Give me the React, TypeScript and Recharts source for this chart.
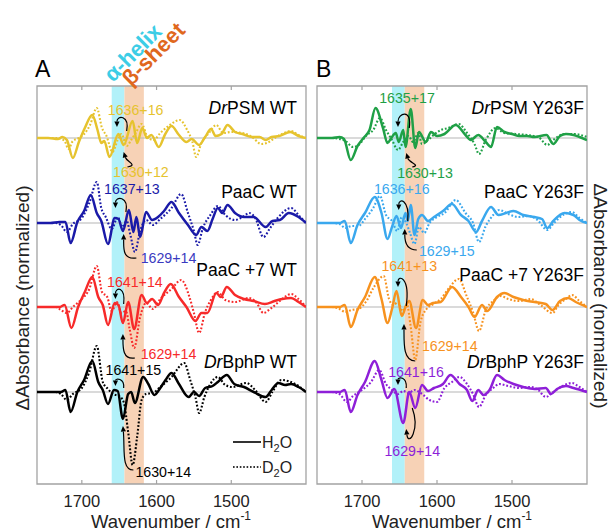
import { LineChart, Line, XAxis, YAxis, ReferenceArea, ReferenceLine, ReferenceDot } from "recharts"

type Pt = [number, number]

const FONT = '"Liberation Sans", Arial, Helvetica, sans-serif'

// wavenumber axis (cm-1), drawn high -> low
const WN_DOMAIN: [number, number] = [1400, 1760]
const WN_TICKS = [1700, 1600, 1500]
const HELIX_BAND: [number, number] = [1660, 1643]
const SHEET_BAND: [number, number] = [1643, 1617]

// stacked spectra: vertical offset of each zero line
const OFFSETS = [346, 261, 177, 92]
const Y_MAX = 398

// ---- panel A (WT) ----
const psmWtH2O: Pt[] = [[1760,0],[1745,0],[1732,-1],[1726,1],[1720,-2],[1712,-20],[1704,-4],[1696,10],[1686,23],[1679,8],[1674,-5],[1670,-3],[1663,-19],[1651,4],[1644,-7],[1632,17],[1626,-5],[1619,10],[1613,0],[1607,3],[1597,-9],[1589,3],[1580,12],[1570,3],[1560,-4],[1553,-1],[1543,-7],[1535,1],[1527,9],[1521,2],[1513,4],[1505,13],[1495,6],[1485,4],[1472,1],[1462,1],[1454,-2],[1446,1],[1436,2],[1421,6],[1410,2],[1400,0]]
const psmWtD2O: Pt[] = [[1760,0],[1732,0],[1723,-3],[1718,-11],[1712,-3],[1704,0],[1697,4],[1689,13],[1680,30],[1673,10],[1667,2],[1659,-14],[1652,-2],[1647,4],[1640,-8],[1634,-2],[1628,5],[1620,14],[1612,1],[1604,-2],[1595,5],[1584,12],[1569,18],[1559,8],[1552,-4],[1547,-19],[1540,-5],[1530,5],[1520,13],[1511,5],[1500,6],[1485,5],[1472,1],[1460,-6],[1452,-5],[1442,0],[1432,4],[1420,7],[1410,3],[1400,0]]
const paacWtH2O: Pt[] = [[1760,0],[1742,0],[1730,1],[1722,1],[1715,-20],[1706,1],[1697,12],[1688,28],[1680,10],[1674,2],[1665,-21],[1656,5],[1651,4],[1645,-8],[1637,13],[1631,-9],[1627,6],[1622,-14],[1614,11],[1606,3],[1598,6],[1590,12],[1580,21],[1570,10],[1558,-2],[1547,-12],[1540,-4],[1532,-8],[1525,4],[1518,15],[1512,10],[1505,18],[1495,10],[1483,6],[1470,6],[1454,-4],[1445,2],[1435,3],[1423,10],[1410,6],[1400,0]]
const paacWtD2O: Pt[] = [[1760,0],[1735,0],[1728,-2],[1720,-9],[1712,-1],[1700,5],[1690,20],[1680,41],[1674,15],[1668,6],[1660,-6],[1652,6],[1646,-4],[1640,2],[1635,-12],[1629,-29],[1622,-8],[1614,3],[1605,-2],[1595,4],[1580,15],[1567,29],[1558,10],[1550,-8],[1545,-22],[1538,-5],[1528,8],[1518,17],[1508,8],[1495,3],[1485,6],[1476,10],[1468,5],[1457,-14],[1448,-5],[1438,5],[1420,15],[1410,8],[1400,0]]
const paac7WtH2O: Pt[] = [[1760,0],[1740,0],[1730,0],[1723,2],[1714,-21],[1705,0],[1696,15],[1686,30],[1678,10],[1672,2],[1665,-18],[1656,4],[1651,2],[1645,-16],[1638,5],[1630,-22],[1620,12],[1613,4],[1606,8],[1598,2],[1590,14],[1581,23],[1570,10],[1560,0],[1548,-14],[1540,-6],[1532,-6],[1520,14],[1514,10],[1506,20],[1495,12],[1483,8],[1470,6],[1455,3],[1442,6],[1432,8],[1420,9],[1410,5],[1400,0]]
const paac7WtD2O: Pt[] = [[1760,0],[1735,0],[1728,-3],[1720,-6],[1712,0],[1700,8],[1690,18],[1680,41],[1673,15],[1666,10],[1660,-4],[1653,5],[1647,-6],[1641,-4],[1636,-22],[1630,-41],[1622,-10],[1614,4],[1605,-2],[1595,8],[1580,18],[1567,27],[1556,10],[1550,-6],[1543,-26],[1535,-5],[1528,6],[1518,15],[1508,7],[1495,5],[1476,9],[1466,4],[1457,-6],[1448,-2],[1435,6],[1420,13],[1410,8],[1400,0]]
const bphpWtH2O: Pt[] = [[1760,0],[1740,0],[1728,0],[1722,2],[1715,-20],[1706,0],[1697,12],[1686,31],[1678,10],[1672,2],[1665,-12],[1657,2],[1652,1],[1645,-27],[1638,-2],[1634,0],[1629,-11],[1618,15],[1611,8],[1603,-3],[1595,4],[1588,12],[1580,19],[1570,8],[1557,-5],[1550,0],[1543,-4],[1535,4],[1525,6],[1518,10],[1506,17],[1496,8],[1483,5],[1470,0],[1454,-5],[1446,2],[1437,9],[1428,7],[1420,8],[1410,5],[1400,0]]
const bphpWtD2O: Pt[] = [[1760,0],[1735,0],[1728,-2],[1720,-8],[1712,-2],[1700,4],[1690,20],[1680,46],[1672,10],[1665,3],[1658,-2],[1650,-4],[1644,-10],[1638,-40],[1632,-73],[1626,-45],[1620,-8],[1614,-2],[1605,-1],[1595,5],[1580,15],[1563,29],[1555,12],[1548,-5],[1543,-21],[1536,-5],[1528,8],[1518,15],[1508,7],[1498,5],[1480,9],[1468,2],[1454,-10],[1445,0],[1433,12],[1420,10],[1410,6],[1400,0]]

// ---- panel B (Y263F) ----
const psmYfH2O: Pt[] = [[1760,0],[1740,0],[1730,1],[1724,-1],[1715,-22],[1706,-8],[1698,0],[1690,8],[1682,30],[1672,10],[1666,-5],[1661,0],[1655,5],[1651,-4],[1645,8],[1642,-9],[1635,29],[1629,-10],[1624,6],[1615,-4],[1608,6],[1600,2],[1590,4],[1575,13],[1562,3],[1555,-2],[1545,3],[1535,-4],[1528,-9],[1520,11],[1510,6],[1500,4],[1490,2],[1480,2],[1470,1],[1454,3],[1445,-6],[1436,2],[1428,4],[1418,3],[1410,1],[1400,-2]]
const psmYfD2O: Pt[] = [[1760,0],[1740,0],[1730,-1],[1722,-3],[1712,-9],[1703,-6],[1695,2],[1685,8],[1676,20],[1668,8],[1660,-2],[1652,-12],[1645,-4],[1638,2],[1632,-4],[1625,5],[1620,-6],[1612,-2],[1603,4],[1595,8],[1585,10],[1571,14],[1560,5],[1550,-6],[1544,-16],[1535,-2],[1522,10],[1510,5],[1495,4],[1480,3],[1465,1],[1453,-7],[1445,-2],[1430,4],[1418,4],[1400,1]]
const paacYfH2O: Pt[] = [[1760,0],[1740,0],[1730,0],[1723,2],[1715,-20],[1706,-2],[1696,10],[1683,26],[1674,10],[1666,-16],[1660,-4],[1654,7],[1648,-5],[1642,10],[1639,2],[1635,18],[1630,-12],[1625,4],[1620,8],[1612,2],[1604,6],[1592,12],[1580,19],[1568,8],[1558,2],[1548,-9],[1540,2],[1528,16],[1518,8],[1508,10],[1498,12],[1485,8],[1470,6],[1460,4],[1453,-5],[1445,2],[1430,10],[1418,8],[1410,3],[1400,0]]
const paacYfD2O: Pt[] = [[1760,0],[1740,0],[1730,-1],[1722,-5],[1714,-3],[1705,-3],[1695,5],[1685,15],[1676,27],[1668,8],[1660,2],[1653,-8],[1647,6],[1641,0],[1636,-10],[1630,-21],[1624,-4],[1617,-10],[1610,0],[1600,6],[1590,10],[1575,23],[1562,10],[1552,0],[1544,-19],[1535,-3],[1525,8],[1517,13],[1505,9],[1492,6],[1478,7],[1466,3],[1453,-7],[1444,0],[1430,9],[1420,11],[1410,5],[1400,0]]
const paac7YfH2O: Pt[] = [[1760,0],[1740,0],[1730,0],[1723,2],[1715,-20],[1706,-3],[1696,10],[1683,30],[1674,8],[1666,-16],[1660,-2],[1654,16],[1647,-9],[1641,2],[1637,6],[1628,-21],[1619,7],[1612,2],[1605,4],[1595,5],[1580,20],[1568,10],[1558,0],[1550,-10],[1540,2],[1533,-4],[1520,10],[1510,14],[1498,10],[1485,7],[1470,5],[1455,3],[1446,-3],[1436,6],[1425,9],[1415,5],[1400,0]]
const paac7YfD2O: Pt[] = [[1760,0],[1740,0],[1730,-2],[1722,-5],[1714,-3],[1705,-2],[1695,5],[1684,20],[1671,31],[1664,8],[1658,2],[1652,5],[1646,-4],[1640,2],[1635,-20],[1629,-53],[1622,-15],[1614,-2],[1605,3],[1595,8],[1585,18],[1571,28],[1560,10],[1552,-5],[1544,-24],[1535,-3],[1525,6],[1515,11],[1505,8],[1490,6],[1475,8],[1462,2],[1446,-6],[1438,2],[1428,8],[1420,12],[1410,6],[1400,0]]
const bphpYfH2O: Pt[] = [[1760,0],[1740,0],[1730,0],[1723,2],[1715,-20],[1706,-3],[1696,10],[1683,31],[1674,12],[1666,-6],[1657,3],[1645,-31],[1637,0],[1629,-16],[1620,7],[1612,1],[1604,4],[1592,8],[1582,17],[1570,8],[1560,2],[1553,-9],[1545,2],[1538,-3],[1530,2],[1520,17],[1510,12],[1498,8],[1485,5],[1470,3],[1455,4],[1448,-2],[1440,3],[1428,6],[1418,4],[1400,0]]
const bphpYfD2O: Pt[] = [[1760,0],[1740,0],[1730,-2],[1720,-10],[1712,-4],[1700,2],[1688,10],[1677,22],[1668,8],[1660,2],[1652,-2],[1645,1],[1638,-1],[1630,2],[1620,-2],[1610,-8],[1600,-10],[1590,4],[1580,10],[1570,15],[1560,8],[1552,-2],[1544,-15],[1535,-3],[1525,4],[1517,8],[1505,6],[1490,4],[1475,5],[1465,2],[1455,-5],[1445,0],[1430,7],[1420,9],[1410,5],[1400,0]]

interface Trace {
  italic: string
  name: string
  color: string
  h2o: Pt[]
  d2o: Pt[]
}

interface Note {
  text: string
  at: Pt
  color: string
}

interface Arrow {
  from: Pt
  to: Pt
  c1: [number, number]
  c2: [number, number]
}

const wtTraces: Trace[] = [
  { italic: "Dr", name: "PSM WT", color: "#e6c32e", h2o: psmWtH2O, d2o: psmWtD2O },
  { italic: "", name: "PaaC WT", color: "#1a1aa8", h2o: paacWtH2O, d2o: paacWtD2O },
  { italic: "", name: "PaaC +7 WT", color: "#f72a2a", h2o: paac7WtH2O, d2o: paac7WtD2O },
  { italic: "Dr", name: "BphP WT", color: "#000000", h2o: bphpWtH2O, d2o: bphpWtD2O },
]

const yfTraces: Trace[] = [
  { italic: "Dr", name: "PSM Y263F", color: "#1fa046", h2o: psmYfH2O, d2o: psmYfD2O },
  { italic: "", name: "PaaC Y263F", color: "#3aa8ee", h2o: paacYfH2O, d2o: paacYfD2O },
  { italic: "", name: "PaaC +7 Y263F", color: "#f7921e", h2o: paac7YfH2O, d2o: paac7YfD2O },
  { italic: "Dr", name: "BphP Y263F", color: "#8e1fd8", h2o: bphpYfH2O, d2o: bphpYfD2O },
]

const NAME_AT_A = [[1412, 370], [1412, 286], [1412, 208], [1412, 116]] as Pt[]
const NAME_AT_B = [[1404, 370], [1404, 286], [1404, 203], [1404, 116]] as Pt[]

const wtNotes: Note[] = [
  { text: "1636+16", at: [1628, 369], color: "#e6c32e" },
  { text: "1630+12", at: [1621, 307], color: "#e6c32e" },
  { text: "1637+13", at: [1633, 290], color: "#1a1aa8" },
  { text: "1629+14", at: [1584, 221], color: "#3a3ac0" },
  { text: "1641+14", at: [1629, 197], color: "#f72a2a" },
  { text: "1629+14", at: [1584, 125], color: "#f72a2a" },
  { text: "1641+15", at: [1631, 109], color: "#000000" },
  { text: "1630+14", at: [1591, 7], color: "#000000" },
]

const yfNotes: Note[] = [
  { text: "1635+17", at: [1640, 381], color: "#1fa046" },
  { text: "1630+13", at: [1616, 306], color: "#1fa046" },
  { text: "1636+16", at: [1647, 290], color: "#3aa8ee" },
  { text: "1629+15", at: [1587, 228], color: "#3aa8ee" },
  { text: "1641+13", at: [1637, 213], color: "#f7921e" },
  { text: "1629+14", at: [1583, 133], color: "#f7921e" },
  { text: "1641+16", at: [1628, 107], color: "#8e1fd8" },
  { text: "1629+14", at: [1633, 28], color: "#8e1fd8" },
]

const wtArrows: Arrow[] = [
  { from: [1640, 353], to: [1653, 357], c1: [3, -16], c2: [0, -12] },
  { from: [1639, 317], to: [1644, 332], c1: [11, -2], c2: [3, 10] },
  { from: [1641, 272], to: [1655, 276], c1: [3, -16], c2: [0, -12] },
  { from: [1627, 226], to: [1644, 250], c1: [-14, 2], c2: [0, 14] },
  { from: [1644, 180], to: [1655, 185], c1: [2, -18], c2: [0, -12] },
  { from: [1629, 126], to: [1645, 150], c1: [-12, 2], c2: [0, 14] },
  { from: [1644, 96], to: [1655, 98], c1: [1, -10], c2: [0, -8] },
  { from: [1631, 14], to: [1645, 58], c1: [-12, 0], c2: [2, 24] },
]

const yfArrows: Arrow[] = [
  { from: [1637, 356], to: [1652, 357], c1: [3, -20], c2: [0, -14] },
  { from: [1633, 317], to: [1641, 331], c1: [9, -2], c2: [3, 10] },
  { from: [1639, 263], to: [1651, 274], c1: [2, -22], c2: [0, -12] },
  { from: [1627, 234], to: [1643, 255], c1: [-10, 0], c2: [0, 12] },
  { from: [1641, 178], to: [1652, 197], c1: [4, -30], c2: [0, -12] },
  { from: [1629, 123], to: [1644, 160], c1: [-12, 0], c2: [0, 20] },
  { from: [1641, 96], to: [1652, 99], c1: [1, -12], c2: [0, -8] },
  { from: [1633, 76], to: [1641, 55], c1: [8, 22], c2: [2, 18] },
]

const W = 611
const H = 532
const GREY = "#a3a3a3"

const toRows = (pts: Pt[], offset: number) => pts.map(([w, v]) => ({ w, v: v + offset }))

const arrowShape = (c1: [number, number], c2: [number, number]) => (p: any) => {
  const { x1, y1, x2, y2 } = p
  const qx = x2 + c2[0]
  const qy = y2 + c2[1]
  const ang = Math.atan2(y2 - qy, x2 - qx)
  const len = 5.5
  const half = 2.6
  const bx = x2 - len * Math.cos(ang)
  const by = y2 - len * Math.sin(ang)
  const nx = -Math.sin(ang) * half
  const ny = Math.cos(ang) * half
  return (
    <g>
      <path
        d={`M${x1},${y1} C${x1 + c1[0]},${y1 + c1[1]} ${qx},${qy} ${bx},${by}`}
        fill="none"
        stroke="#000"
        strokeWidth={1.2}
      />
      <path d={`M${x2},${y2} L${bx + nx},${by + ny} L${bx - nx},${by - ny} Z`} fill="#000" />
    </g>
  )
}

interface PanelProps {
  traces: Trace[]
  names: Pt[]
  notes: Note[]
  arrows: Arrow[]
  left: number
  right: number
}

const Panel = ({ traces, names, notes, arrows, left, right }: PanelProps) => (
  <div style={{ position: "absolute", left: 0, top: 0 }}>
    <LineChart width={W} height={H} margin={{ top: 86, left, right, bottom: 18 }}>
      <XAxis
        dataKey="w"
        type="number"
        domain={WN_DOMAIN}
        reversed
        allowDataOverflow
        ticks={WN_TICKS}
        tickLine={false}
        axisLine={false}
        tickSize={0}
        tickMargin={11}
        height={30}
        tick={{ fontSize: 16.5, fill: "#222", fontFamily: FONT }}
      />
      <YAxis hide type="number" domain={[0, Y_MAX]} allowDataOverflow />

      <ReferenceArea x1={HELIX_BAND[0]} x2={HELIX_BAND[1]} y1={0} y2={Y_MAX} fill="#b2f1f9" fillOpacity={1} stroke="none" />
      <ReferenceArea x1={SHEET_BAND[0]} x2={SHEET_BAND[1]} y1={0} y2={Y_MAX} fill="#f7d2b6" fillOpacity={1} stroke="none" />

      {OFFSETS.map((o) => (
        <ReferenceLine key={`z${o}`} y={o} stroke="#b5b5b5" strokeWidth={1.2} />
      ))}

      {traces.map((t, i) => (
        <Line
          key={`d${i}`}
          data={toRows(t.d2o, OFFSETS[i])}
          dataKey="v"
          type="monotone"
          dot={false}
          stroke={t.color}
          strokeWidth={2.1}
          strokeDasharray="1.8 1.9"
          isAnimationActive={false}
        />
      ))}
      {traces.map((t, i) => (
        <Line
          key={`h${i}`}
          data={toRows(t.h2o, OFFSETS[i])}
          dataKey="v"
          type="monotone"
          dot={false}
          stroke={t.color}
          strokeWidth={2.5}
          isAnimationActive={false}
        />
      ))}

      {arrows.map((a, i) => (
        <ReferenceLine
          key={`a${i}`}
          segment={[{ x: a.from[0], y: a.from[1] }, { x: a.to[0], y: a.to[1] }]}
          ifOverflow="visible"
          shape={arrowShape(a.c1, a.c2)}
        />
      ))}

      {notes.map((n, i) => (
        <ReferenceDot
          key={`n${i}`}
          x={n.at[0]}
          y={n.at[1]}
          r={0}
          ifOverflow="visible"
          shape={(p: any) => (
            <text x={p.cx} y={p.cy} textAnchor="middle" fontSize={14.2} fontFamily={FONT} fill={n.color}>
              {n.text}
            </text>
          )}
        />
      ))}

      {traces.map((t, i) => (
        <ReferenceDot
          key={`l${i}`}
          x={names[i][0]}
          y={names[i][1]}
          r={0}
          ifOverflow="visible"
          shape={(p: any) => (
            <text x={p.cx} y={p.cy} textAnchor="end" fontSize={17.5} fontFamily={FONT} fill="#000">
              {t.italic && <tspan fontStyle="italic">{t.italic}</tspan>}
              {t.name}
            </text>
          )}
        />
      ))}

      {WN_TICKS.map((t) => (
        <ReferenceLine key={`bt${t}`} segment={[{ x: t, y: 0 }, { x: t, y: 4 }]} stroke={GREY} strokeWidth={1.2} />
      ))}
      {WN_TICKS.map((t) => (
        <ReferenceLine key={`tt${t}`} segment={[{ x: t, y: Y_MAX }, { x: t, y: Y_MAX - 4 }]} stroke={GREY} strokeWidth={1.2} />
      ))}
      <ReferenceArea x1={WN_DOMAIN[1]} x2={WN_DOMAIN[0]} y1={0} y2={Y_MAX} fill="none" stroke={GREY} strokeWidth={1.3} />
    </LineChart>
  </div>
)

const Overlay = () => (
  <svg width={W} height={H} style={{ position: "absolute", left: 0, top: 0, pointerEvents: "none" }} fontFamily={FONT}>
    <text x={35} y={77} fontSize={23}>A</text>
    <text x={316} y={77} fontSize={23}>B</text>
    <text transform="translate(113,83) rotate(-45)" fontSize={22} fontWeight="bold" fill="#3ccde6">α-helix</text>
    <text transform="translate(131,87) rotate(-45)" fontSize={22} fontWeight="bold" fill="#e0681e">β-sheet</text>

    <text transform="translate(29,298) rotate(-90)" textAnchor="middle" fontSize={19} fill="#222">ΔAbsorbance (normalized)</text>
    <text transform="translate(594,296) rotate(90)" textAnchor="middle" fontSize={19} fill="#222">ΔAbsorbance (normalized)</text>

    <text x={171} y={528} textAnchor="middle" fontSize={18.5} fill="#222">
      Wavenumber / cm<tspan fontSize={12} dy={-8}>-1</tspan>
    </text>
    <text x={452} y={528} textAnchor="middle" fontSize={18.5} fill="#222">
      Wavenumber / cm<tspan fontSize={12} dy={-8}>-1</tspan>
    </text>

    <line x1={233} y1={442} x2={261} y2={442} stroke="#333" strokeWidth={2} />
    <text x={262} y={448} fontSize={16} fill="#222">
      H<tspan fontSize={11} dy={4}>2</tspan><tspan dy={-4}>O</tspan>
    </text>
    <line x1={233} y1={467} x2={261} y2={467} stroke="#333" strokeWidth={2} strokeDasharray="1.6 1.8" />
    <text x={262} y={473} fontSize={16} fill="#222">
      D<tspan fontSize={11} dy={4}>2</tspan><tspan dy={-4}>O</tspan>
    </text>
  </svg>
)

export default function App() {
  return (
    <div style={{ position: "absolute", left: 0, top: 0, width: W, height: H, background: "#fff" }}>
      <Panel traces={wtTraces} names={NAME_AT_A} notes={wtNotes} arrows={wtArrows} left={37} right={W - 306} />
      <Panel traces={yfTraces} names={NAME_AT_B} notes={yfNotes} arrows={yfArrows} left={317} right={W - 587} />
      <Overlay />
    </div>
  )
}
